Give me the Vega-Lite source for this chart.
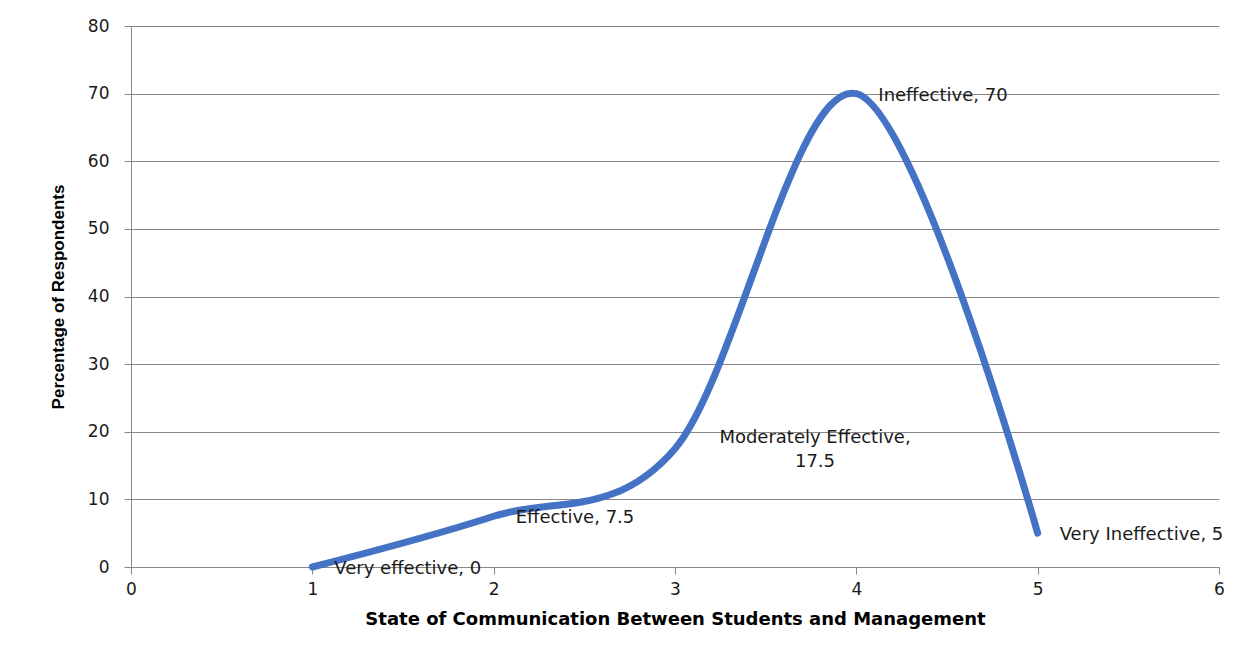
{
  "$schema": "https://vega.github.io/schema/vega-lite/v6.json",
  "width": 1088,
  "height": 541,
  "autosize": {"type": "none"},
  "padding": {"left": 131, "top": 26, "right": 39, "bottom": 87},
  "background": "white",
  "config": {
    "view": {"stroke": null},
    "axis": {
      "labelFont": "DejaVu Sans",
      "labelFontSize": 17,
      "labelColor": "#1a1a1a",
      "labelFlush": false,
      "titleFont": "Liberation Sans",
      "titleFontWeight": "bold",
      "titleColor": "#000000",
      "domainColor": "#888888",
      "tickColor": "#888888",
      "gridColor": "#888888",
      "tickSize": 7
    }
  },
  "data": {
    "values": [
      {"x": 1, "y": 0, "label": "Very effective, 0", "pos": "right"},
      {"x": 2, "y": 7.5, "label": "Effective, 7.5", "pos": "right"},
      {"x": 3, "y": 17.5, "label": "Moderately Effective,\n17.5", "pos": "below"},
      {"x": 4, "y": 70, "label": "Ineffective, 70", "pos": "right"},
      {"x": 5, "y": 5, "label": "Very Ineffective, 5", "pos": "right"}
    ]
  },
  "encoding": {
    "x": {
      "field": "x", "type": "quantitative",
      "scale": {"domain": [0, 6], "nice": false, "zero": true},
      "axis": {
        "values": [0, 1, 2, 3, 4, 5, 6], "grid": false,
        "labelPadding": 7,
        "title": "State of Communication Between Students and Management",
        "titleFont": "DejaVu Sans", "titleFontSize": 18, "titlePadding": 13
      }
    },
    "y": {
      "field": "y", "type": "quantitative",
      "scale": {"domain": [0, 80], "nice": false},
      "axis": {
        "values": [0, 10, 20, 30, 40, 50, 60, 70, 80], "grid": true,
        "labelPadding": 15,
        "title": "Percentage of Respondents",
        "titleFontSize": 17, "titlePadding": 20
      }
    }
  },
  "layer": [
    {
      "mark": {"type": "line", "interpolate": "cardinal", "color": "#4472C4", "strokeWidth": 7, "strokeCap": "round", "strokeJoin": "round"}
    },
    {
      "transform": [{"filter": "datum.pos == 'right'"}],
      "mark": {"type": "text", "align": "left", "baseline": "middle", "dx": 22, "dy": 2, "font": "DejaVu Sans", "fontSize": 18, "color": "#1a1a1a"},
      "encoding": {"text": {"field": "label"}}
    },
    {
      "transform": [{"filter": "datum.pos == 'below'"}],
      "mark": {"type": "text", "align": "center", "baseline": "middle", "dx": 140, "dy": -11, "lineBreak": "\n", "lineHeight": 24, "font": "DejaVu Sans", "fontSize": 18, "color": "#1a1a1a"},
      "encoding": {"text": {"field": "label"}}
    }
  ]
}
